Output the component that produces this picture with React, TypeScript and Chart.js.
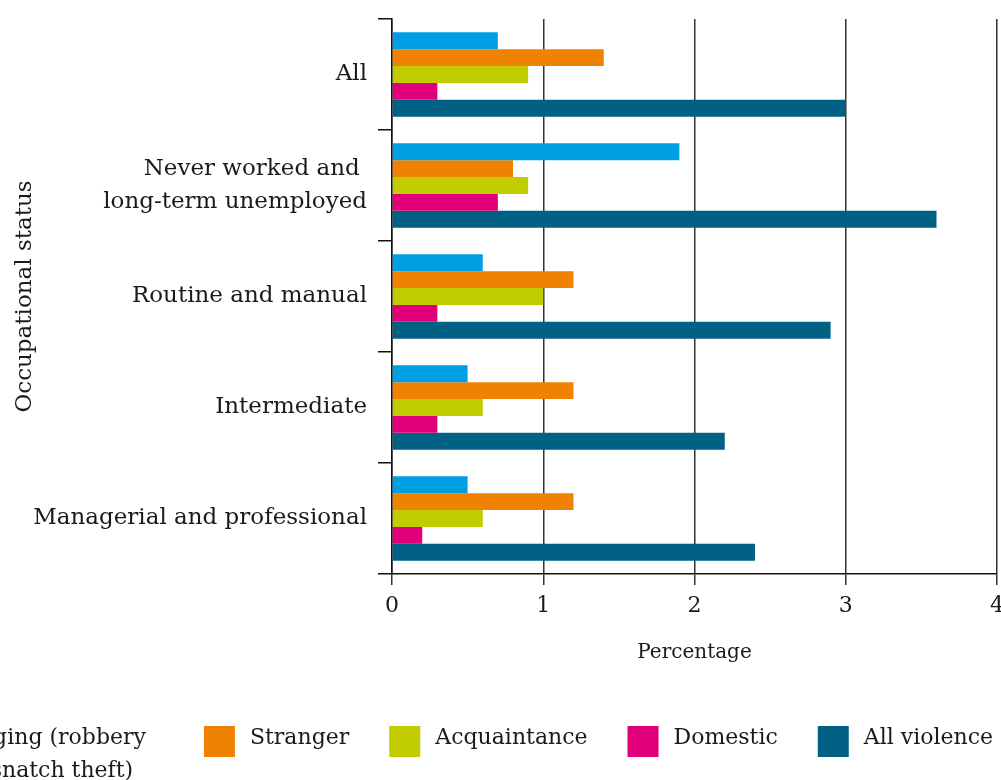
import React, { useEffect, useRef } from "react";
import { Chart, registerables } from "chart.js";

Chart.register(...registerables);

const categories: (string | string[])[] = [
  "All",
  ["Never worked and ", "long-term unemployed"],
  "Routine and manual",
  "Intermediate",
  "Managerial and professional",
];

const seriesNames: string[] = [
  "Mugging (robbery and snatch theft)",
  "Stranger",
  "Acquaintance",
  "Domestic",
  "All violence",
];
const legendLines: string[][] = [
  ["Mugging (robbery", "and snatch theft)"],
  ["Stranger"],
  ["Acquaintance"],
  ["Domestic"],
  ["All violence"],
];
const seriesColors: string[] = ["#009fe3", "#ef8200", "#c1cd00", "#e2007a", "#006185"];

const mugging: number[] = [0.7, 1.9, 0.6, 0.5, 0.5];
const stranger: number[] = [1.4, 0.8, 1.2, 1.2, 1.2];
const acquaintance: number[] = [0.9, 0.9, 1.0, 0.6, 0.6];
const domestic: number[] = [0.3, 0.7, 0.3, 0.3, 0.2];
const allViolence: number[] = [3.0, 3.6, 2.9, 2.2, 2.4];

const xTickValues: number[] = [0, 1, 2, 3, 4];

const FONT = "'DejaVu Serif', serif";

const legendPlugin = {
  id: "customLegend",
  afterDraw(chart: any) {
    const ctx = chart.ctx as CanvasRenderingContext2D;
    ctx.save();
    ctx.font = `22px ${FONT}`;
    ctx.textBaseline = "middle";
    ctx.textAlign = "left";
    const box = 31;
    const boxGap = 15;
    const gap = 40;
    const boxTop = 726;
    const lineH = 33;
    const widths = legendLines.map((lines) => {
      const w = Math.max(...lines.map((l) => ctx.measureText(l).width));
      return lines.length > 1 ? w + 18 : w;
    });
    let cur = 993;
    const xs: number[] = [];
    for (let i = legendLines.length - 1; i >= 0; i--) {
      const textX = cur - widths[i];
      const boxX = textX - boxGap - box;
      xs[i] = boxX;
      cur = boxX - gap;
    }
    chart.data.datasets.forEach((ds: any, i: number) => {
      const bx = xs[i];
      ctx.fillStyle = ds.backgroundColor;
      ctx.fillRect(bx, boxTop, box, box);
      ctx.fillStyle = "#1a1a1a";
      legendLines[i].forEach((line, j) => {
        ctx.fillText(line, bx + box + boxGap, boxTop + 12 + j * lineH);
      });
    });
    ctx.restore();
  },
};

export default function App() {
  const ref = useRef<HTMLCanvasElement | null>(null);
  useEffect(() => {
    if (!ref.current) return;
    const values = [mugging, stranger, acquaintance, domestic, allViolence];
    const chart = new Chart(ref.current, {
      type: "bar",
      data: {
        labels: categories,
        datasets: seriesNames.map((name, i) => ({
          label: name,
          data: values[i],
          backgroundColor: seriesColors[i],
          borderWidth: 0,
          categoryPercentage: 0.76,
          barPercentage: 1,
        })),
      },
      options: {
        indexAxis: "y",
        animation: false,
        responsive: false,
        devicePixelRatio: 1,
        layout: {
          autoPadding: false,
          padding: { top: 19, left: 7, right: 4, bottom: 111 },
        },
        plugins: {
          legend: { display: false },
          tooltip: { enabled: false },
        },
        scales: {
          x: {
            type: "linear",
            min: 0,
            max: 4,
            afterBuildTicks: (s: any) => {
              s.ticks = xTickValues.map((v) => ({ value: v }));
            },
            afterFit: (s: any) => {
              s.height = 95;
              s.paddingLeft = 0;
              s.paddingRight = 0;
              s.paddingTop = 0;
              s.paddingBottom = 0;
            },
            grid: {
              color: "#333333",
              lineWidth: 1.5,
              tickLength: 11,
              drawOnChartArea: true,
            },
            border: { display: true, color: "#111111", width: 1.5 },
            ticks: {
              font: { family: FONT, size: 22 },
              color: "#1a1a1a",
              padding: 8,
            },
            title: {
              display: true,
              text: "Percentage",
              font: { family: FONT, size: 20 },
              color: "#1a1a1a",
              padding: { top: 4, bottom: 4 },
            },
          },
          y: {
            type: "category",
            afterFit: (s: any) => {
              s.width = 392 - 7;
              s.paddingLeft = 0;
              s.paddingRight = 0;
              s.paddingTop = 0;
              s.paddingBottom = 0;
            },
            grid: {
              offset: true,
              drawOnChartArea: false,
              tickLength: 14,
              color: "#111111",
              lineWidth: 1.5,
            },
            border: { display: true, color: "#111111", width: 1.5 },
            ticks: {
              font: { family: FONT, size: 23, lineHeight: 1.4 },
              color: "#1a1a1a",
              padding: 11,
            },
            title: {
              display: true,
              text: "Occupational status",
              font: { family: FONT, size: 23 },
              color: "#1a1a1a",
              padding: { top: 4, bottom: 4 },
            },
          },
        },
      },
      plugins: [legendPlugin],
    } as any);
    return () => chart.destroy();
  }, []);
  return (
    <div style={{ position: "absolute", left: 0, top: 0, width: 1001, height: 780, background: "#fff" }}>
      <canvas ref={ref} width={1001} height={780} style={{ display: "block" }} />
    </div>
  );
}
